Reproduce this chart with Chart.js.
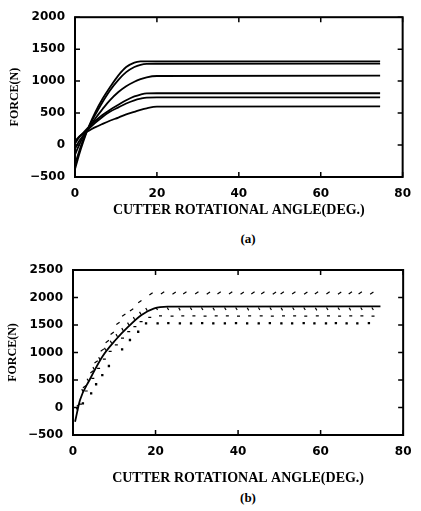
<!DOCTYPE html>
<html>
<head>
<meta charset="utf-8">
<script src="https://cdn.jsdelivr.net/npm/chart.js@4"></script>
<style>
  body { margin: 0; background: #fff; }
  #page { position: relative; width: 421px; height: 511px; background: #fff; }
  canvas { position: absolute; left: 0; }
  .cap { position: absolute; width: 20px; text-align: center; font: bold 13px "Liberation Serif", serif; line-height: 16px; color: #000; }
</style>
</head>
<body>
<div id="page">
  <canvas id="chartA" width="421" height="228" style="top:0"></canvas>
  <div class="cap" style="left:238px; top:231px">(a)</div>
  <canvas id="chartB" width="421" height="240" style="top:250px"></canvas>
  <div class="cap" style="left:238px; top:490px">(b)</div>
</div>
<script>
// ---- (a) six calculated force curves ----
const angleA = [0, 1, 2, 3.5, 5, 6.7, 8.5, 10.6, 12.5, 14.5, 16, 17.5, 20, 74.5];
const forceA1 = [-380, -150, 50, 310, 520, 720, 900, 1090, 1220, 1290, 1308, 1310, 1310, 1310];
const forceA2 = [-300, -100, 80, 300, 480, 670, 850, 1020, 1140, 1220, 1255, 1270, 1272, 1275];
const forceA3 = [-150, 0, 130, 280, 420, 560, 700, 830, 920, 990, 1030, 1060, 1080, 1085];
const forceA4 = [20, 120, 190, 290, 380, 470, 550, 630, 700, 760, 790, 808, 810, 810];
const forceA5 = [-60, 60, 150, 260, 350, 440, 520, 590, 650, 700, 725, 742, 745, 745];
const forceA6 = [60, 130, 180, 230, 280, 330, 380, 430, 480, 520, 550, 575, 600, 605];

// ---- (b) solid curve and measured dots ----
const angleLine = [0.5, 1.7, 4, 7.1, 10.3, 13.4, 16.6, 19.7, 22.9, 74.5];
const forceLine = [-260, 136, 500, 924, 1227, 1470, 1682, 1803, 1833, 1840];

const angleU = [1.3, 2.8, 4.6, 5.6, 7.1, 8.3, 9.5, 10.9, 12.3, 14.2, 16.2, 18.9,
  21.7, 24.5, 27.1, 30.0, 32.8, 35.4, 38.2, 41.0, 43.6, 46.0,
  48.8, 50.7, 53.5, 56.4, 59.0, 61.8, 64.6, 67.2, 69.6, 72.4];
const forceU = [45, 380, 650, 830, 1045, 1200, 1350, 1530, 1680, 1775, 1925, 2065,
  2085, 2080, 2085, 2085, 2080, 2085, 2085, 2080, 2085, 2085,
  2080, 2085, 2085, 2080, 2085, 2085, 2080, 2085, 2085, 2080];

const angleM1 = [1.0, 2.3, 3.6, 5.0, 6.4, 7.8, 9.2, 10.6, 12.0, 13.4, 14.8, 16.3, 17.8,
  20.3, 23.0, 25.8, 28.6, 31.3, 34.1, 36.9, 39.6, 42.4, 45.1,
  47.9, 50.6, 53.4, 56.1, 58.9, 61.6, 64.4, 67.1, 69.9, 72.6];
const forceM1 = [-30, 310, 500, 710, 890, 1060, 1190, 1310, 1420, 1520, 1620, 1715, 1785,
  1795, 1795, 1790, 1795, 1795, 1790, 1795, 1795, 1790, 1795,
  1795, 1790, 1795, 1795, 1790, 1795, 1795, 1790, 1795, 1795];

const angleM2 = [1.8, 3.2, 4.8, 6.2, 7.6, 9.0, 10.5, 12.0, 13.5, 15.0, 16.5, 18.6,
  21.2, 24.0, 26.6, 29.3, 32.0, 34.7, 37.4, 40.1, 42.8, 45.6,
  48.3, 51.0, 53.7, 56.4, 59.2, 61.9, 64.6, 67.3, 70.0, 72.7];
const forceM2 = [60, 300, 530, 710, 880, 1020, 1140, 1260, 1380, 1470, 1560, 1640,
  1665, 1660, 1665, 1665, 1660, 1665, 1665, 1660, 1665, 1665,
  1660, 1665, 1665, 1660, 1665, 1665, 1660, 1665, 1665, 1660];

const angleL = [2.4, 4.4, 5.6, 7.1, 8.7, 11.9, 13.8, 15.8, 17.7,
  20.5, 23.1, 25.9, 28.6, 31.3, 34.0, 36.8, 39.5, 42.2, 45.0,
  47.7, 50.5, 53.1, 55.9, 58.5, 61.3, 63.7, 66.3, 68.9, 71.7];
const forceL = [76, 258, 422, 590, 755, 1058, 1227, 1378, 1530,
  1530, 1535, 1530, 1530, 1535, 1530, 1530, 1535, 1530, 1530,
  1535, 1530, 1530, 1535, 1530, 1530, 1535, 1530, 1530, 1535];

const xTitle = "CUTTER ROTATIONAL ANGLE(DEG.)";
const yTitle = "FORCE(N)";

Chart.defaults.color = "#000";
Chart.defaults.font.family = "'DejaVu Sans', sans-serif";
Chart.defaults.font.weight = "bold";
Chart.defaults.font.size = 12;

function pts(xs, ys) {
    return xs.map((v, i) => ({ x: v, y: ys[i] }));
}

// box round the plot with inward ticks on all four sides
const frameTicks = {
    id: "frameTicks",
    afterDraw(chart) {
        const { ctx, chartArea: a, scales: { x, y } } = chart;
        ctx.save();
        ctx.strokeStyle = "#000";
        ctx.lineWidth = 2;
        ctx.strokeRect(a.left, a.top, a.width, a.height);
        ctx.lineWidth = 1.5;
        ctx.beginPath();
        x.ticks.forEach(t => {
            const px = x.getPixelForValue(t.value);
            ctx.moveTo(px, a.bottom); ctx.lineTo(px, a.bottom - 5);
            ctx.moveTo(px, a.top); ctx.lineTo(px, a.top + 5);
        });
        y.ticks.forEach(t => {
            const py = y.getPixelForValue(t.value);
            ctx.moveTo(a.left, py); ctx.lineTo(a.left + 5, py);
            ctx.moveTo(a.right, py); ctx.lineTo(a.right - 5, py);
        });
        ctx.stroke();
        ctx.restore();
    }
};

function makeOptions(cfg) {
    return {
        responsive: false,
        animation: false,
        layout: { padding: { top: cfg.top, right: cfg.right, left: 0, bottom: 0 } },
        plugins: { legend: { display: false }, tooltip: { enabled: false } },
        scales: {
            x: {
                type: "linear", min: 0, max: 80,
                grid: { display: false, drawTicks: false },
                border: { display: false },
                ticks: { stepSize: 20, padding: cfg.xPad },
                title: {
                    display: true, text: xTitle,
                    font: { family: "'Liberation Serif', serif", size: 14, weight: "bold" },
                    padding: { top: 0, bottom: cfg.xTitlePad }
                },
                afterFit: s => { s.height = cfg.xHeight; }
            },
            y: {
                min: -500, max: cfg.yMax,
                grid: { display: false, drawTicks: false },
                border: { display: false },
                ticks: {
                    stepSize: 500, padding: 10,
                    callback: v => String(v).replace("-", "\u2212")
                },
                title: {
                    display: true, text: yTitle,
                    font: { family: "'Liberation Serif', serif", size: 12, weight: "bold" },
                    padding: { top: cfg.yTitlePad, bottom: 0 }
                },
                afterFit: s => { s.width = cfg.yWidth; }
            }
        }
    };
}

function curve(data) {
    return {
        type: "line", data, borderColor: "#000", borderWidth: 1.8,
        pointRadius: 0, cubicInterpolationMode: "monotone", fill: false
    };
}

function dots(data, style, rot, r) {
    return {
        type: "scatter", data, borderColor: "#000", backgroundColor: "#000",
        pointStyle: style, rotation: rot, pointRadius: r, borderWidth: 1.2
    };
}

// -----------------------------
//  (a)
// -----------------------------
new Chart(document.getElementById("chartA"), {
    type: "line",
    data: {
        datasets: [
            curve(pts(angleA, forceA1)),
            curve(pts(angleA, forceA2)),
            curve(pts(angleA, forceA3)),
            curve(pts(angleA, forceA4)),
            curve(pts(angleA, forceA5)),
            curve(pts(angleA, forceA6))
        ]
    },
    options: makeOptions({
        top: 13, right: 8, xPad: 10, xTitlePad: 9, xHeight: 51,
        yMax: 2000, yTitlePad: 8, yWidth: 75
    }),
    plugins: [frameTicks]
});

// -----------------------------
//  (b)
// -----------------------------
new Chart(document.getElementById("chartB"), {
    type: "line",
    data: {
        datasets: [
            curve(pts(angleLine, forceLine)),
            dots(pts(angleU, forceU), "line", -35, 2),
            dots(pts(angleM1, forceM1), "line", 60, 1.5),
            dots(pts(angleM2, forceM2), "line", 0, 1.5),
            dots(pts(angleL, forceL), "rect", 0, 0.8)
        ]
    },
    options: makeOptions({
        top: 20, right: 9, xPad: 9.5, xTitlePad: 3.6, xHeight: 55,
        yMax: 2500, yTitlePad: 6, yWidth: 73
    }),
    plugins: [frameTicks]
});
</script>
</body>
</html>
